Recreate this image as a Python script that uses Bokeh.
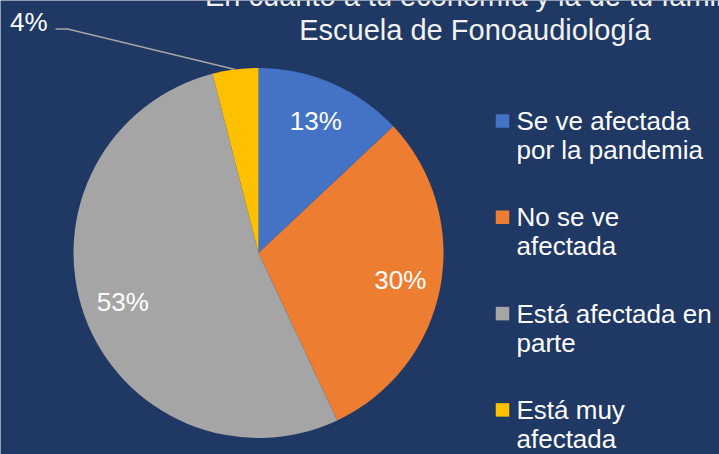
import math
from bokeh.plotting import figure
from bokeh.models import Range1d, ColumnDataSource
from bokeh.core.properties import value
from bokeh.embed import file_html
from bokeh.resources import INLINE

# ---- data ----
categories = ["Se ve afectada\npor la pandemia", "No se ve\nafectada",
              "Está afectada en\nparte", "Está muy\nafectada"]
percentages = [13, 30, 53, 4]
colors = ["#4472C4", "#ED7D31", "#A5A5A5", "#FFC000"]
title_lines = ["En cuanto a tu economía y la de tu familia",
               "Escuela de Fonoaudiología"]

# ---- layout (page pixel coordinates, y measured downward) ----
PAGE_W, PAGE_H = 719, 454
BG = "#1F3864"
FONT = value("Liberation Sans")
cx, cy = 258.0, 252.5
R = 185.0

def Y(page_y):
    return PAGE_H - page_y

p = figure(width=PAGE_W, height=PAGE_H, x_range=Range1d(0, PAGE_W), y_range=Range1d(0, PAGE_H),
           output_backend="svg", toolbar_location=None, min_border=0,
           x_axis_type=None, y_axis_type=None)
p.background_fill_color = BG
p.border_fill_color = BG
p.outline_line_color = None
p.xgrid.visible = False
p.ygrid.visible = False

# ---- pie ----
total = float(sum(percentages))
starts, ends, mids = [], [], []
c = 0.0
for v in percentages:
    f0 = c / total
    c += v
    f1 = c / total
    starts.append(math.pi / 2 - 2 * math.pi * f0)
    ends.append(math.pi / 2 - 2 * math.pi * f1)
    mids.append(2 * math.pi * (f0 + f1) / 2)  # clockwise from top

src = ColumnDataSource(dict(start=starts, end=ends, color=colors))
p.wedge(x=cx, y=Y(cy), radius=R, start_angle="start", end_angle="end",
        direction="clock", fill_color="color", line_color=None, source=src)

# ---- data labels ----
lx, ly, lt = [], [], []
for v, m in zip(percentages, mids):
    if v / total >= 0.06:
        lx.append(cx + 0.78 * R * math.sin(m))
        ly.append(Y(cy - 0.78 * R * math.cos(m)))
        lt.append(f"{v}%")
p.text(x=lx, y=ly, text=lt, text_font=FONT, text_font_size="26px",
       text_color="white", text_align="center", text_baseline="middle")

# outside label with leader line for small slices
for v, m in zip(percentages, mids):
    if v / total < 0.06:
        ex = cx + R * math.sin(m)
        ey = cy - R * math.cos(m)
        p.line(x=[ex, 67, 55], y=[Y(ey), Y(28.5), Y(28.5)],
               line_color="#A5A5A5", line_width=1.5)
        p.text(x=[47], y=[Y(21.7)], text=[f"{v}%"], text_font=FONT,
               text_font_size="26px", text_color="white",
               text_align="right", text_baseline="middle")

# ---- title ----
p.text(x=[474.5, 474.5], y=[Y(-4.4), Y(29.7)], text=title_lines, text_font=FONT,
       text_font_size="29px", text_color="#F2F2F2", text_align="center",
       text_baseline="middle")

# ---- legend ----
leg_step = 96.3
first_mid = 120.5
sq_x, sq_y, tx, ty, tt = [], [], [], [], []
for i, name in enumerate(categories):
    mid = first_mid + i * leg_step
    sq_x.append(502)
    sq_y.append(Y(mid))
    for j, line in enumerate(name.split("\n")):
        tx.append(516)
        ty.append(Y(mid + j * 29))
        tt.append(line)
p.rect(x=sq_x, y=sq_y, width=13.5, height=13.5, fill_color=colors, line_color=None)
p.text(x=tx, y=ty, text=tt, text_font=FONT, text_font_size="26px",
       text_color="white", text_align="left", text_baseline="middle")

open("out.html", "w").write(file_html(p, INLINE))
